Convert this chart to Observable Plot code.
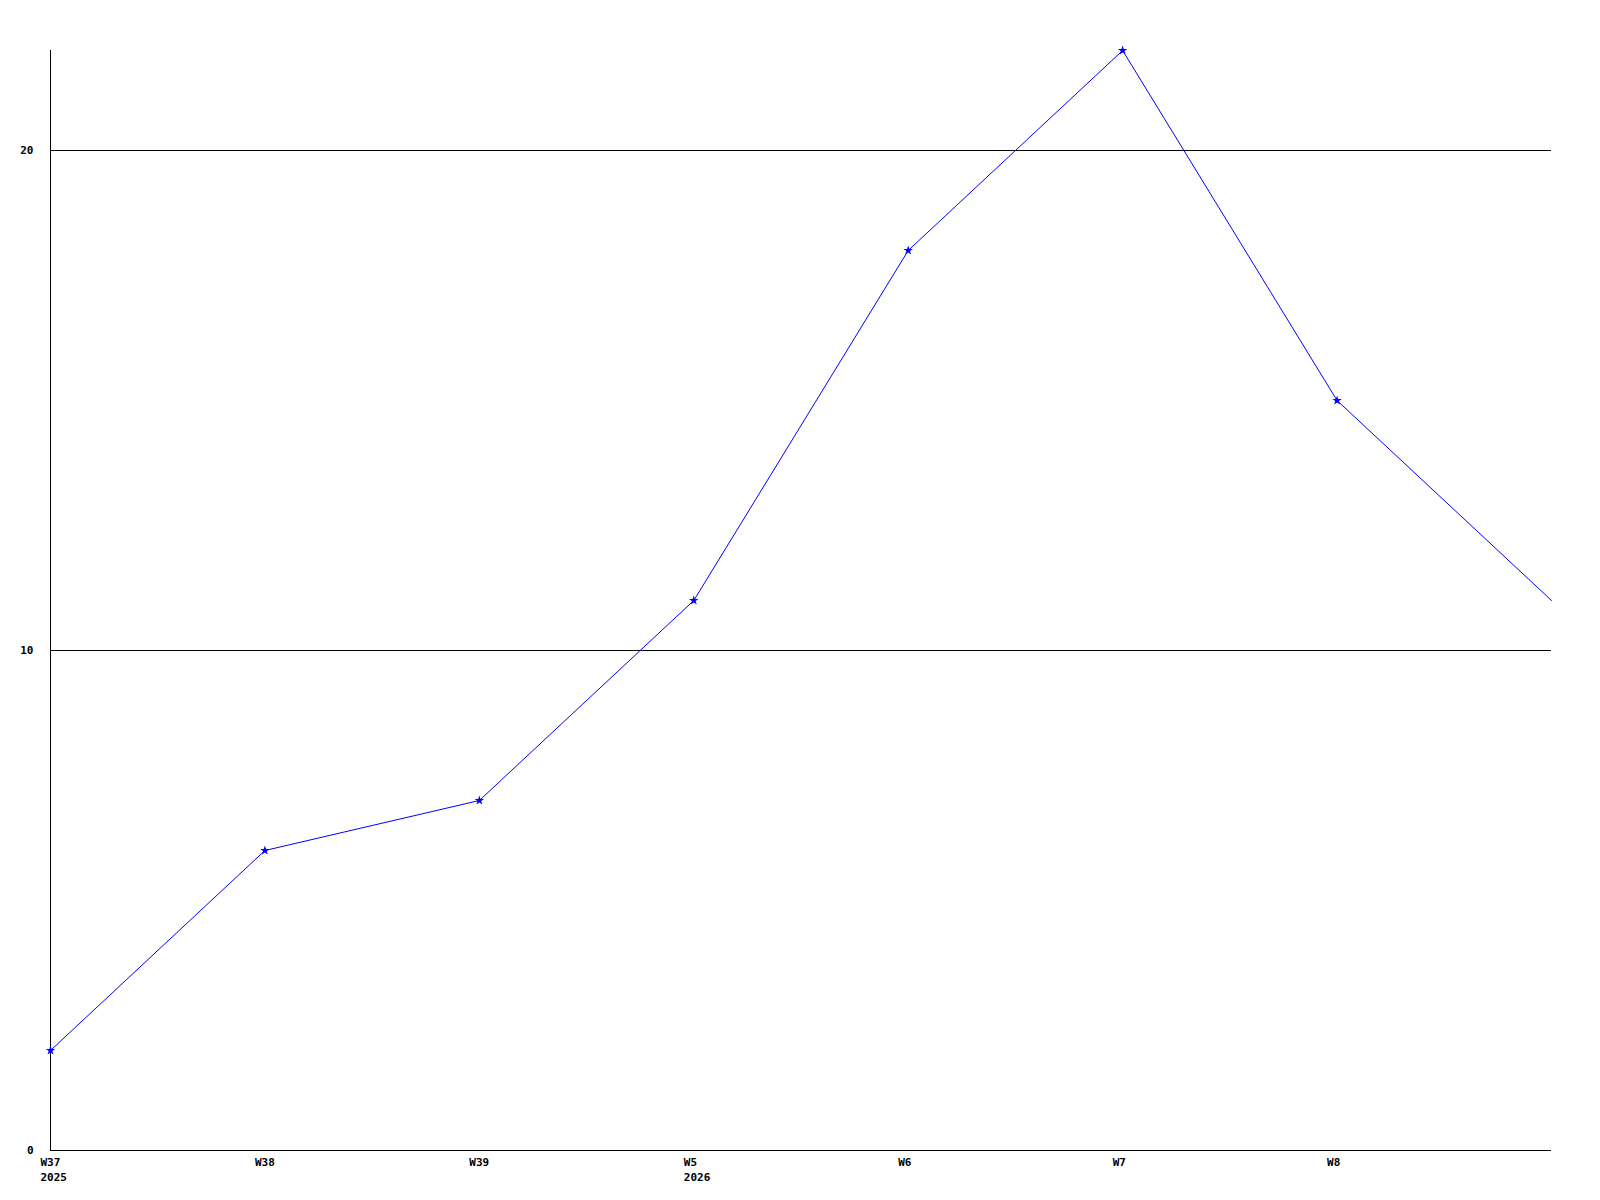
<!DOCTYPE html>
<html>
<head>
<meta charset="utf-8">
<script src="https://cdn.jsdelivr.net/npm/d3@7"></script>
<script src="https://cdn.jsdelivr.net/npm/@observablehq/plot@0.6"></script>
<style>
  html, body { margin: 0; padding: 0; background: #fff; }
</style>
</head>
<body>
<div id="chart"></div>
<script>
const weeks = ["W37", "W38", "W39", "W5", "W6", "W7", "W8", ""];
const years = ["2025", "", "", "2026", "", "", "", ""];
const values = [2, 6, 7, 11, 18, 22, 15, 11];
const yTicks = [0, 10, 20];
const gridValues = [10, 20];

const data = weeks.map((w, i) => ({i, week: w, year: years[i], value: values[i],
  label: years[i] ? w + "\n" + years[i] : w}));

const font = "'DejaVu Sans Mono', monospace";

const chart = Plot.plot({
  width: 1600,
  height: 1200,
  marginLeft: 50,
  marginRight: 49,
  marginTop: 50,
  marginBottom: 50,
  style: {fontFamily: font, fontSize: "11px", fontWeight: "bold", background: "#fff"},
  x: {type: "linear", domain: [0, weeks.length - 1], axis: null},
  y: {domain: [0, 22], axis: null},
  marks: [
    Plot.ruleY(gridValues, {stroke: "black", strokeWidth: 1}),
    Plot.ruleY([0], {stroke: "black", strokeWidth: 1}),
    Plot.ruleX([0], {stroke: "black", strokeWidth: 1}),
    Plot.text(yTicks, {x: 0, y: d => d, text: d => String(d), textAnchor: "end", dx: -17, fill: "black"}),
    Plot.text(data.filter(d => d.week), {x: "i", y: 0, text: "label", textAnchor: "start", lineAnchor: "top", dx: -10, dy: 5, lineHeight: 1.36, fill: "black"}),
    Plot.line(data, {x: "i", y: "value", stroke: "#0000ff", strokeWidth: 1}),
    Plot.dot(data.slice(0, -1), {x: "i", y: "value", symbol: "star", r: 3, fill: "#0000ff"})
  ]
});
document.getElementById("chart").appendChild(chart);
</script>
</body>
</html>
